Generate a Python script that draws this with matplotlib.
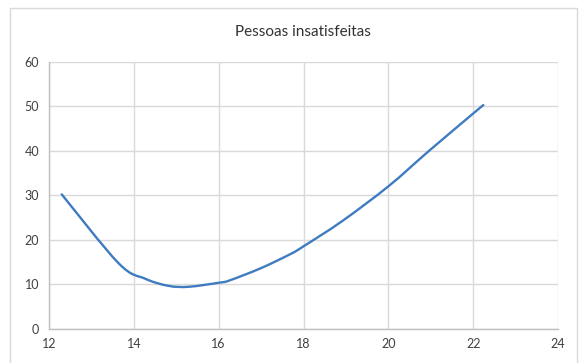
import numpy as np
import matplotlib
matplotlib.use("Agg")
import matplotlib.pyplot as plt
from matplotlib.path import Path
from matplotlib.patches import PathPatch, Rectangle

# Temperature (°C) and percentage of dissatisfied people
temperatura = [12.3, 13.64, 14.27, 14.82, 15.3, 16.0, 16.25, 17.0, 17.7,
               18.0, 18.9, 20.0, 20.96, 22.0, 22.24]
insatisfeitos = [30.2, 14.7, 11.2, 9.6, 9.4, 10.3, 10.8, 13.6, 16.8,
                 18.5, 24.1, 32.0, 40.0, 48.4, 50.3]

x_ticks = [12, 14, 16, 18, 20, 22, 24]
y_ticks = [0, 10, 20, 30, 40, 50, 60]
titulo = "Pessoas insatisfeitas"

plt.rcParams['font.family'] = ['Lato', 'DejaVu Sans']

fig = plt.figure(figsize=(5.86, 3.63), dpi=100)
fig.patch.set_facecolor('white')

# chart-area border
fig.patches.append(Rectangle((10 / 586, -0.01), 567 / 586, 1 - 8 / 363 + 0.01,
                             transform=fig.transFigure, fill=False,
                             edgecolor='#D9D9D9', linewidth=1.0))

ax = fig.add_axes([49 / 586, 1 - 328.5 / 363, 509 / 586, 266.5 / 363])
ax.set_xlim(12, 24)
ax.set_ylim(0, 60)
ax.set_xticks(x_ticks)
ax.set_yticks(y_ticks)
ax.set_xticklabels([str(v) for v in x_ticks])
ax.set_yticklabels([str(v) for v in y_ticks])

ax.grid(True, color='#D9D9D9', linewidth=1.0)
ax.set_axisbelow(True)
for side in ['top', 'right']:
    ax.spines[side].set_visible(False)
for side in ['left', 'bottom']:
    ax.spines[side].set_color('#BFBFBF')
    ax.spines[side].set_linewidth(1.0)
ax.tick_params(length=0, colors='#404040', labelsize=9, pad=7)

# smoothed line (Catmull-Rom converted to cubic Bézier segments)
pts = np.column_stack([temperatura, insatisfeitos])
n = len(pts)
verts = [tuple(pts[0])]
codes = [Path.MOVETO]
t = 1 / 6
for i in range(n - 1):
    p0 = pts[i - 1] if i > 0 else pts[i]
    p1 = pts[i]
    p2 = pts[i + 1]
    p3 = pts[i + 2] if i + 2 < n else pts[i + 1]
    c1 = p1 + (p2 - p0) * t
    c2 = p2 - (p3 - p1) * t
    verts += [tuple(c1), tuple(c2), tuple(p2)]
    codes += [Path.CURVE4] * 3
ax.add_patch(PathPatch(Path(verts, codes), fill=False, edgecolor='#3F7BC1',
                       linewidth=1.7, capstyle='round', joinstyle='round'))

fig.text(303 / 586, 1 - 32 / 363, titulo, ha='center', va='center',
         fontsize=11, color='#333333')

fig.savefig('out.png', dpi=100, facecolor='white')
